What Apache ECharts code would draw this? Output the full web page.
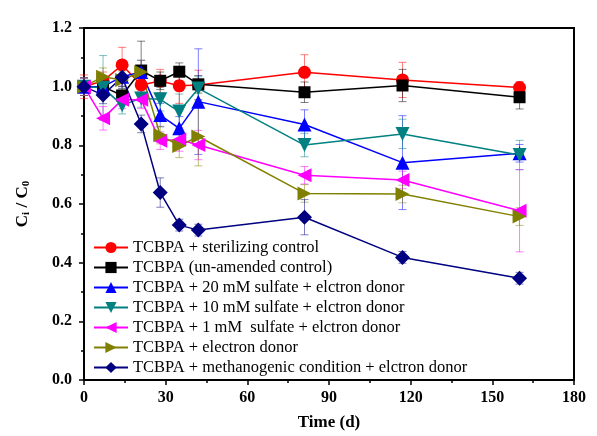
<!DOCTYPE html>
<html><head><meta charset="utf-8">
<script src="https://cdn.jsdelivr.net/npm/echarts@6/dist/echarts.min.js"></script>
<style>html,body{margin:0;padding:0;background:#fff}#c{width:597px;height:436px}</style>
</head><body><div id="c"></div>
<script>
var times = [0, 7, 14, 21, 28, 35, 42, 81, 117, 160];
var names = [
  'TCBPA + sterilizing control',
  'TCBPA (un-amended control)',
  'TCBPA + 20 mM sulfate + elctron donor',
  'TCBPA + 10 mM sulfate + elctron donor',
  'TCBPA + 1 mM  sulfate + elctron donor',
  'TCBPA + electron donor',
  'TCBPA + methanogenic condition + elctron donor'
];
var sterile = [1.0, 1.02, 1.074, 1.006, 1.019, 1.003, 1.006, 1.049, 1.023, 0.997];
var sterileErr = [0.04, 0.03, 0.06, 0.04, 0.04, 0.06, 0.05, 0.06, 0.06, 0.02];
var unamended = [1.0, 1.0, 0.97, 1.055, 1.02, 1.051, 1.008, 0.981, 1.004, 0.964];
var unamendedErr = [0.03, 0.03, 0.03, 0.1, 0.03, 0.03, 0.03, 0.035, 0.055, 0.04];
var sulf20 = [1.0, 1.0, 1.034, 1.05, 0.903, 0.858, 0.949, 0.871, 0.741, 0.773];
var sulf20Err = [0.03, 0.03, 0.04, 0.04, 0.04, 0.04, 0.18, 0.05, 0.16, 0.03];
var sulf10 = [1.0, 0.996, 0.937, 0.96, 0.957, 0.915, 0.994, 0.801, 0.839, 0.767];
var sulf10Err = [0.03, 0.11, 0.03, 0.03, 0.04, 0.06, 0.04, 0.04, 0.05, 0.05];
var sulf1 = [1.0, 0.892, 0.955, 0.955, 0.816, 0.82, 0.801, 0.698, 0.682, 0.577];
var sulf1Err = [0.03, 0.04, 0.03, 0.03, 0.03, 0.04, 0.05, 0.03, 0.03, 0.14];
var donor = [1.0, 1.034, 1.023, 1.05, 0.835, 0.798, 0.83, 0.636, 0.634, 0.557];
var donorErr = [0.03, 0.03, 0.03, 0.04, 0.03, 0.04, 0.1, 0.03, 0.03, 0.03];
var methano = [1.0, 0.972, 1.032, 0.873, 0.639, 0.528, 0.511, 0.555, 0.418, 0.347];
var methanoErr = [0.02, 0.03, 0.03, 0.03, 0.05, 0.02, 0.02, 0.06, 0.02, 0.02];
var xTicks = [0, 30, 60, 90, 120, 150, 180];
var yTicks = [0.0, 0.2, 0.4, 0.6, 0.8, 1.0, 1.2];

var values = [sterile, unamended, sulf20, sulf10, sulf1, donor, methano];
var errs = [sterileErr, unamendedErr, sulf20Err, sulf10Err, sulf1Err, donorErr, methanoErr];
var colors = ['#ff0000', '#000000', '#0000ff', '#008080', '#ff00ff', '#808000', '#000080'];
var symbols = ['circle', 'rect', 'triangle', 'triangle', 'triangle', 'triangle', 'diamond'];
var rotates = [0, 0, 0, 180, 90, -90, 0];
var sizes = [13, 12, 14, 14, 14, 14, 15];

var series = [];
values.forEach(function (vals, i) {
  var errData = times.map(function (t, j) { return [t, vals[j], errs[i][j]]; });
  series.push({
    type: 'custom',
    silent: true,
    z: 1,
    renderItem: function (params, api) {
      var x = api.value(0), y = api.value(1), e = api.value(2);
      var top = api.coord([x, y + e]);
      var bot = api.coord([x, y - e]);
      var hw = 4;
      var st = { stroke: colors[i], lineWidth: 1, opacity: 0.5 };
      return {
        type: 'group',
        children: [
          { type: 'line', shape: { x1: top[0], y1: top[1], x2: bot[0], y2: bot[1] }, style: st },
          { type: 'line', shape: { x1: top[0] - hw, y1: top[1], x2: top[0] + hw, y2: top[1] }, style: st },
          { type: 'line', shape: { x1: bot[0] - hw, y1: bot[1], x2: bot[0] + hw, y2: bot[1] }, style: st }
        ]
      };
    },
    data: errData
  });
});
values.forEach(function (vals, i) {
  series.push({
    name: names[i],
    type: 'line',
    z: 2,
    data: times.map(function (t, j) { return [t, vals[j]]; }),
    symbol: symbols[i],
    symbolRotate: rotates[i],
    symbolSize: sizes[i],
    showAllSymbol: true,
    lineStyle: { color: colors[i], width: 1.5 },
    itemStyle: { color: colors[i] },
    emphasis: { disabled: true }
  });
});

var chart = echarts.init(document.getElementById('c'), null, { renderer: 'canvas' });
var labelFont = { fontFamily: 'Liberation Serif', fontWeight: 'bold', fontSize: 16, color: '#000' };
chart.setOption({
  animation: false,
  backgroundColor: '#fff',
  grid: { left: 84, right: 23, top: 28, bottom: 56, show: true, borderColor: '#000', borderWidth: 2, backgroundColor: 'transparent' },
  legend: {
    orient: 'vertical',
    left: 88,
    top: 234,
    itemWidth: 34,
    itemHeight: 14,
    itemGap: 3,
    data: names,
    textStyle: { fontFamily: 'Liberation Serif', fontSize: 16.5, lineHeight: 16, color: '#000' }
  },
  xAxis: {
    type: 'value',
    min: 0, max: 180, interval: 30,
    name: 'Time (d)',
    nameLocation: 'middle',
    nameGap: 34,
    nameTextStyle: Object.assign({}, labelFont, { fontSize: 17 }),
    axisLine: { show: true, lineStyle: { color: '#000', width: 2 } },
    axisTick: { show: true, length: 5, lineStyle: { color: '#000', width: 1.5 } },
    minorTick: { show: true, splitNumber: 2, length: 3, lineStyle: { color: '#000', width: 1.5 } },
    splitLine: { show: false },
    axisLabel: Object.assign({ margin: 10, formatter: function (v) { return xTicks.indexOf(v) >= 0 ? String(v) : ''; } }, labelFont)
  },
  yAxis: {
    type: 'value',
    min: 0, max: 1.2, interval: 0.2,
    name: 'C{s|i} / C{s|0}',
    nameLocation: 'middle',
    nameGap: 52,
    nameRotate: 90,
    nameTextStyle: Object.assign({}, labelFont, { fontSize: 17, rich: { s: { fontFamily: 'Liberation Serif', fontWeight: 'bold', fontSize: 11, verticalAlign: 'bottom', padding: [8, 0, 0, 0] } } }),
    axisLine: { show: true, lineStyle: { color: '#000', width: 2 } },
    axisTick: { show: true, length: 5, lineStyle: { color: '#000', width: 1.5 } },
    minorTick: { show: true, splitNumber: 2, length: 3, lineStyle: { color: '#000', width: 1.5 } },
    splitLine: { show: false },
    axisLabel: Object.assign({ margin: 12, formatter: function (v) { return v.toFixed(1); } }, labelFont)
  },
  series: series
});
</script>
</body></html>
